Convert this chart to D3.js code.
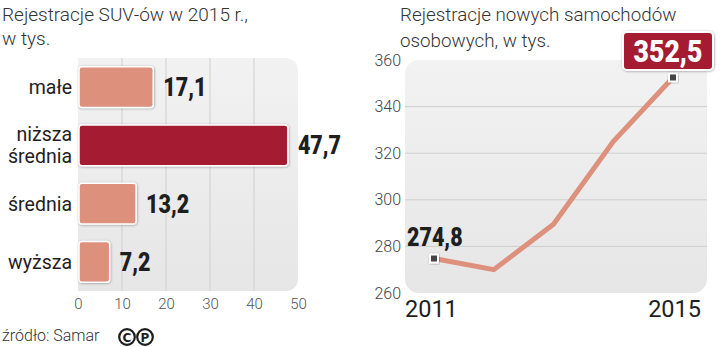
<!DOCTYPE html>
<html><head><meta charset="utf-8">
<script src="https://cdn.jsdelivr.net/npm/d3@7"></script>
<style>
body{margin:0;background:#fff;}
svg{display:block;}
.light{font-family:Roboto,"Open Sans",sans-serif;font-weight:300;}
.num{font-family:Roboto,sans-serif;font-weight:900;}
</style>
</head><body>
<svg id="c" width="720" height="347"></svg>
<script>
const barCats = ["małe", "niższa|średnia", "średnia", "wyższa"];
const barVals = [17.1, 47.7, 13.2, 7.2];
const barLabels = ["17,1", "47,7", "13,2", "7,2"];
const barTicks = [0, 10, 20, 30, 40, 50];

const years = [2011, 2012, 2013, 2014, 2015];
const regs = [274.8, 270.0, 289.5, 325.0, 352.5];
const lineTicks = [260, 280, 300, 320, 340, 360];

const svg = d3.select("#c");
const defs = svg.append("defs");
const g = defs.append("linearGradient").attr("id","bg").attr("x1",0).attr("y1",0).attr("x2",0).attr("y2",1);
g.append("stop").attr("offset","0%").attr("stop-color","#f2f2f2");
g.append("stop").attr("offset","100%").attr("stop-color","#e6e6e6");
const sh = defs.append("filter").attr("id","sh").attr("x","-20%").attr("y","-20%").attr("width","140%").attr("height","140%");
sh.append("feDropShadow").attr("dx",0.5).attr("dy",0.5).attr("stdDeviation",0.8).attr("flood-color","#000").attr("flood-opacity",0.35);

const salmon = "#dd917d", dark = "#a51c33", ink = "#1e1e1e";
const NS = 0.86; // horizontal condensing for bold numbers

function numText(sel, xPos, yPos, size, fill, anchor){
  return sel.append("text").attr("class","num")
    .attr("transform",`translate(${xPos},${yPos}) scale(${NS},1)`)
    .attr("font-size",size).attr("fill",fill).attr("text-anchor",anchor||"start");
}

// ---------- LEFT: bar chart ----------
svg.append("text").attr("class","light").attr("x",2).attr("y",21).attr("font-size",19).attr("fill","#333").text("Rejestracje SUV-ów w 2015 r.,");
svg.append("text").attr("class","light").attr("x",2).attr("y",45).attr("font-size",19).attr("fill","#333").text("w tys.");

const x = d3.scaleLinear().domain([0,50]).range([78,298]);
const y = d3.scaleBand().domain(barCats).range([58,291]).paddingInner(0.3).paddingOuter(0.15);

svg.append("rect").attr("x",x(0)).attr("y",58).attr("width",x(50)-x(0)).attr("height",233).attr("rx",12).attr("fill","url(#bg)");
svg.append("rect").attr("x",x(0)).attr("y",58).attr("width",14).attr("height",233).attr("fill","url(#bg)");

svg.append("g").selectAll("line").data(barTicks.filter(t=>t>0&&t<50)).join("line")
  .attr("x1",d=>x(d)).attr("x2",d=>x(d)).attr("y1",58).attr("y2",291)
  .attr("stroke","#cfcfcf").attr("stroke-width",1);

const xAxis = svg.append("g").attr("transform","translate(0,292)")
  .call(d3.axisBottom(x).tickValues(barTicks).tickSize(0).tickPadding(6));
xAxis.select(".domain").remove();
xAxis.selectAll("text").attr("class","light").attr("font-size",15).attr("fill","#555").attr("font-family","Roboto,sans-serif");

svg.append("g").selectAll("rect").data(barCats).join("rect")
  .attr("x",x(0)+1).attr("y",d=>y(d)).attr("height",y.bandwidth())
  .attr("width",(d,i)=>x(barVals[i])-x(0)-1)
  .attr("rx",3).attr("fill",(d,i)=>i===1?dark:salmon)
  .attr("stroke","#fff").attr("stroke-width",1.5).attr("filter","url(#sh)");

barCats.forEach((c,i)=>{
  numText(svg, x(barVals[i])+10, y(c)+y.bandwidth()/2+9, 25, ink).text(barLabels[i]);
});

barCats.forEach(c=>{
  const parts = c.split("|");
  const cy = y(c)+y.bandwidth()/2;
  const t = svg.append("text").attr("text-anchor","end").attr("font-family","Roboto,sans-serif")
    .attr("font-size",19.5).attr("fill",ink);
  parts.forEach((p,j)=>{
    t.append("tspan").attr("x",72).attr("y",cy+7+(j-(parts.length-1)/2)*22).text(p);
  });
});

svg.append("text").attr("class","light").attr("x",2).attr("y",341).attr("font-size",16).attr("fill","#333").text("źródło: Samar");
const cc = svg.append("g").attr("fill","none").attr("stroke",ink).attr("stroke-width",2.2);
cc.append("circle").attr("cx",127).attr("cy",337).attr("r",7.8);
cc.append("circle").attr("cx",145).attr("cy",337).attr("r",7.8);
svg.append("text").attr("x",127).attr("y",341.5).attr("text-anchor","middle").attr("font-family","DejaVu Sans,sans-serif").attr("font-weight","bold").attr("font-size",12).attr("fill",ink).text("C");
svg.append("text").attr("x",145).attr("y",341.5).attr("text-anchor","middle").attr("font-family","DejaVu Sans,sans-serif").attr("font-weight","bold").attr("font-size",12).attr("fill",ink).text("P");

// ---------- RIGHT: line chart ----------
svg.append("text").attr("class","light").attr("x",400).attr("y",21).attr("font-size",18.8).attr("fill","#333").text("Rejestracje nowych samochodów");
svg.append("text").attr("class","light").attr("x",400).attr("y",47).attr("font-size",18.8).attr("fill","#333").text("osobowych, w tys.");

const lx = d3.scaleLinear().domain([2011,2015]).range([434,673]);
const ly = d3.scaleLinear().domain([260,360]).range([293,60]);

svg.append("rect").attr("x",405).attr("y",60).attr("width",302).attr("height",233).attr("rx",14).attr("fill","url(#bg)");

svg.append("g").selectAll("line").data(lineTicks.filter(t=>t>260&&t<360)).join("line")
  .attr("x1",405).attr("x2",707).attr("y1",d=>ly(d)).attr("y2",d=>ly(d))
  .attr("stroke","#cfcfcf").attr("stroke-width",1);

const yAxis = svg.append("g").attr("transform","translate(401,0)")
  .call(d3.axisLeft(ly).tickValues(lineTicks).tickSize(0).tickPadding(0));
yAxis.select(".domain").remove();
yAxis.selectAll("text").attr("font-family","Roboto,sans-serif").attr("font-weight",300).attr("font-size",16).attr("fill","#444");

const line = d3.line().x((d,i)=>lx(years[i])).y(d=>ly(d));
svg.append("path").datum(regs).attr("d",line).attr("fill","none").attr("stroke",salmon)
  .attr("stroke-width",5).attr("stroke-linejoin","miter");

[0,4].forEach(i=>{
  svg.append("rect").attr("x",lx(years[i])-4).attr("y",ly(regs[i])-4).attr("width",8).attr("height",8)
    .attr("fill","#444").attr("stroke","#fff").attr("stroke-width",2).attr("filter","url(#sh)");
});

numText(svg, 407, 246, 25, ink).text("274,8");

svg.append("rect").attr("x",623).attr("y",32).attr("width",90).attr("height",38).attr("rx",4)
  .attr("fill",dark).attr("stroke","#fff").attr("stroke-width",2).attr("filter","url(#sh)");
numText(svg, 668, 61.5, 31, "#fff", "middle").text("352,5");

svg.append("text").attr("x",405).attr("y",317).attr("font-family","Roboto,sans-serif").attr("font-size",23.5).attr("fill",ink).text(years[0]);
svg.append("text").attr("x",701).attr("y",317).attr("text-anchor","end").attr("font-family","Roboto,sans-serif").attr("font-size",23.5).attr("fill",ink).text(years[4]);
</script>
</body></html>
